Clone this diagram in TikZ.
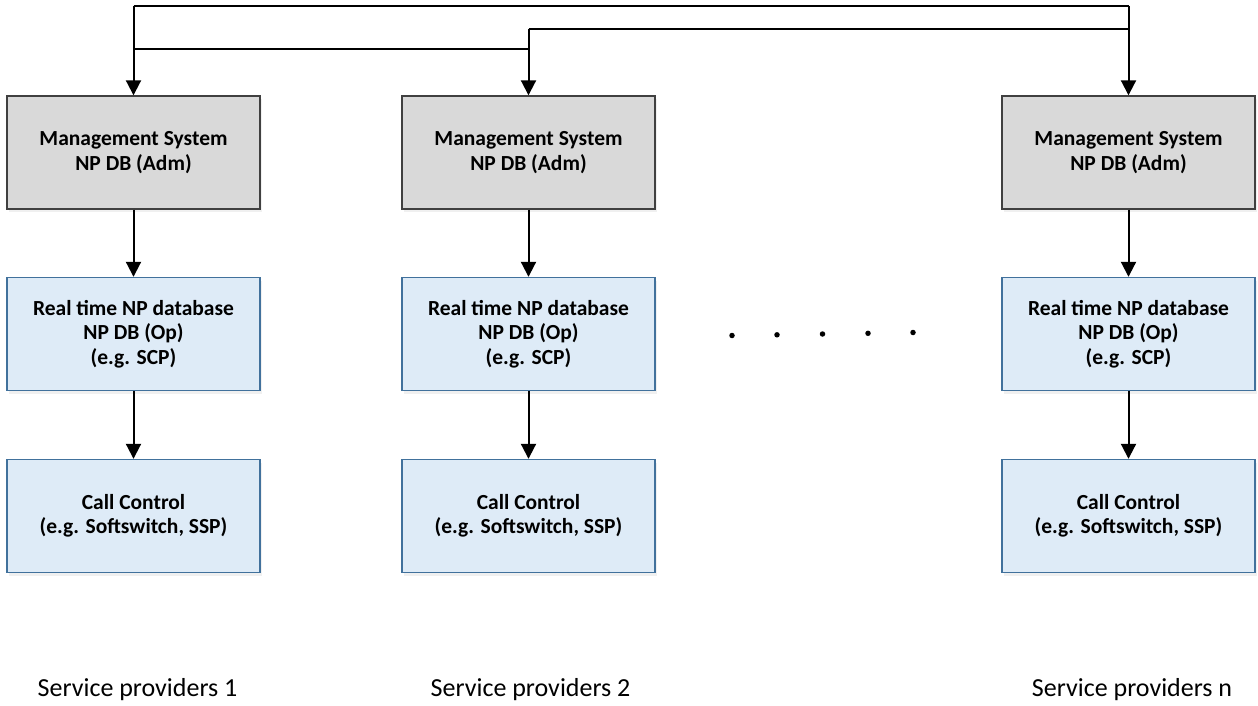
\documentclass[tikz,border=0pt]{standalone}
\usepackage{fontspec}
\setmainfont{Carlito}
\usetikzlibrary{arrows.meta,shadows}
\definecolor{mgfill}{HTML}{D9D9D9}
\definecolor{mgline}{HTML}{404040}
\definecolor{bfill}{HTML}{DEEBF7}
\definecolor{bline}{HTML}{41719C}
\tikzset{
  box/.style={draw, line width=1.4pt, minimum width=253pt, minimum height=113pt,
    align=center, font=\bfseries\fontsize{21.5}{24.5}\selectfont, inner sep=0pt,
    drop shadow={opacity=0.12, shadow xshift=2pt, shadow yshift=-3pt}},
  mgbox/.style={box, fill=mgfill, draw=mgline},
  bbox/.style={box, fill=bfill, draw=bline},
  conn/.style={line width=2pt, draw=black},
  arr/.style={conn, -{Triangle[length=15pt,width=15pt]}},
  lbl/.style={font=\fontsize{26}{30}\selectfont, inner sep=0pt},
  dotmark/.style={circle, fill=black, inner sep=0pt, minimum size=5.5pt}
}
\begin{document}
\begin{tikzpicture}[x=1pt,y=-1pt]
\useasboundingbox (0,0) rectangle (1258,706);
% boxes
\foreach \c/\x in {1/133.5, 2/528.5, 3/1128.5}{
  \node[mgbox] (m\c) at (\x,152.5) {Management System\\NP DB (Adm)};
  \node[bbox] (r\c) at (\x,334) {Real time NP database\\NP DB (Op)\\(e.g. SCP)};
  \node[bbox] (c\c) at (\x,516) {Call Control\\(e.g. Softswitch, SSP)};
  \draw[arr] (m\c) -- (r\c);
  \draw[arr] (r\c) -- (c\c);
}
% top connectors
\coordinate (t1) at (133.5,6);
\coordinate (t3) at (1128.5,6);
\coordinate (u2) at (528.5,29);
\coordinate (u3) at (1128.5,29);
\coordinate (v1) at (133.5,49);
\coordinate (v2) at (528.5,49);
\draw[conn] (t1) -- (t3);
\draw[conn] (u2) -- (u3);
\draw[conn] (v1) -- (v2);
\draw[arr] (t1) -- (m1.north);
\draw[arr] (u2) -- (m2.north);
\draw[arr] (t3) -- (m3.north);
% dots
\foreach \i/\x/\y in {1/732/335.5,2/777/334.8,3/822.5/334,4/868/333.3,5/913/332.5}{
  \node[dotmark] (d\i) at (\x,\y) {};
}
% labels
\node[lbl] (s1) at (137.5,690) {Service providers 1};
\node[lbl] (s2) at (530.5,690) {Service providers 2};
\node[lbl] (s3) at (1132,690) {Service providers n};
\end{tikzpicture}
\end{document}
